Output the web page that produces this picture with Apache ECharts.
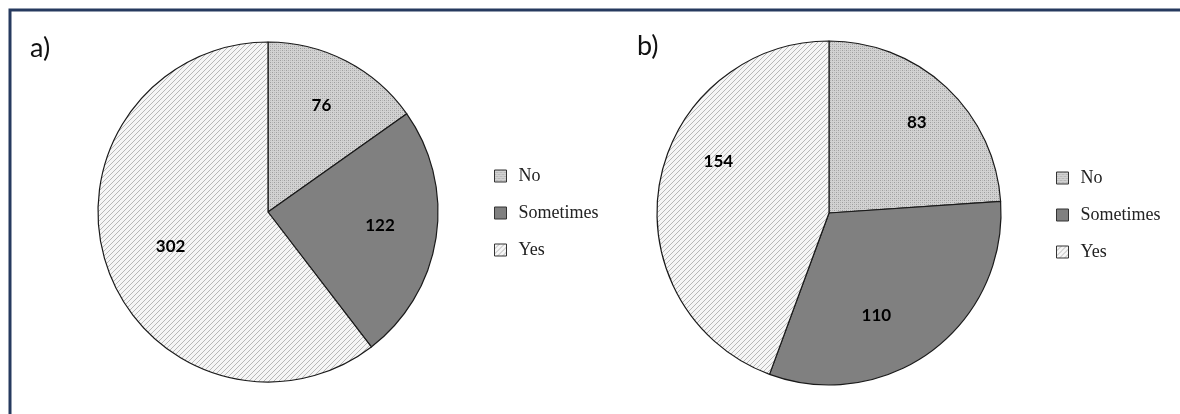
<!DOCTYPE html>
<html><head><meta charset="utf-8">
<script src="https://cdn.jsdelivr.net/npm/echarts@6/dist/echarts.min.js"></script>
<style>html,body{margin:0;padding:0;background:#fff}#c{width:1180px;height:414px}</style>
</head><body><div id="c"></div>
<script>
// ---- data ----
const categories = ['No', 'Sometimes', 'Yes'];
const valuesA = [76, 122, 302];
const valuesB = [83, 110, 154];
const panelLabels = ['a)', 'b)'];

// ---- fills (patterns) ----
function dotPattern() {
  const c = document.createElement('canvas'); c.width = 4; c.height = 4;
  const g = c.getContext('2d');
  g.fillStyle = '#d2d2d2'; g.fillRect(0, 0, 4, 4);
  g.fillStyle = '#9e9e9e';
  g.fillRect(0, 0, 1, 1); g.fillRect(2, 2, 1, 1);
  g.fillStyle = '#b8b8b8';
  g.fillRect(2, 0, 1, 1); g.fillRect(0, 2, 1, 1);
  return c;
}
function hatchPattern() {
  const c = document.createElement('canvas'); c.width = 5; c.height = 5;
  const g = c.getContext('2d');
  g.fillStyle = '#f6f6f6'; g.fillRect(0, 0, 5, 5);
  g.fillStyle = '#b8b8b8';
  for (let i = 0; i < 5; i++) g.fillRect(i, 4 - i, 1, 1);
  return c;
}
const fills = [
  { image: dotPattern(), repeat: 'repeat' },
  '#808080',
  { image: hatchPattern(), repeat: 'repeat' }
];

const offsetsA = [[13, -28], [25, 0], [-14, 6]];
const offsetsB = [[27, -25], [-6, 31], [-23, -36]];

function makeSeries(vals, center, r, offsets) {
  return {
    type: 'pie', center: center, radius: r, startAngle: 90, clockwise: true,
    silent: true, animation: false, avoidLabelOverlap: false,
    data: categories.map((n, i) => ({
      name: n, value: vals[i],
      itemStyle: { color: fills[i] },
      label: { offset: offsets[i] }
    })),
    label: {
      show: true, position: 'inside', formatter: '{c}',
      fontFamily: 'Lato', fontWeight: 'bold', fontSize: 17, color: '#000'
    },
    labelLine: { show: false },
    itemStyle: { borderColor: '#1a1a1a', borderWidth: 1.2 },
    emphasis: { disabled: true }
  };
}

function makeLegend(left, top) {
  return {
    orient: 'vertical', left: left, top: top, icon: 'rect',
    itemWidth: 12, itemHeight: 12, itemGap: 19, selectedMode: false,
    data: categories,
    itemStyle: { borderColor: '#333', borderWidth: 1 },
    textStyle: { fontFamily: 'Liberation Serif', fontSize: 18, lineHeight: 18, color: '#222', padding: [0, 0, 0, 7] }
  };
}

const chart = echarts.init(document.getElementById('c'), null, { renderer: 'canvas' });
chart.setOption({
  backgroundColor: '#ffffff',
  animation: false,
  legend: [makeLegend(489, 162), makeLegend(1051, 164)],
  series: [
    makeSeries(valuesA, [268, 212], 170, offsetsA),
    makeSeries(valuesB, [829, 213], 172, offsetsB)
  ],
  graphic: [
    { type: 'rect', silent: true, shape: { x: 10, y: 10, width: 1400, height: 700 },
      style: { fill: null, stroke: '#263a5f', lineWidth: 3 } },
    { type: 'text', left: 30, top: 35, style: { text: panelLabels[0], fontFamily: 'Lato', fontSize: 27, fill: '#111' } },
    { type: 'text', left: 637, top: 33, style: { text: panelLabels[1], fontFamily: 'Lato', fontSize: 27, fill: '#111' } }
  ]
});
</script>
</body></html>
